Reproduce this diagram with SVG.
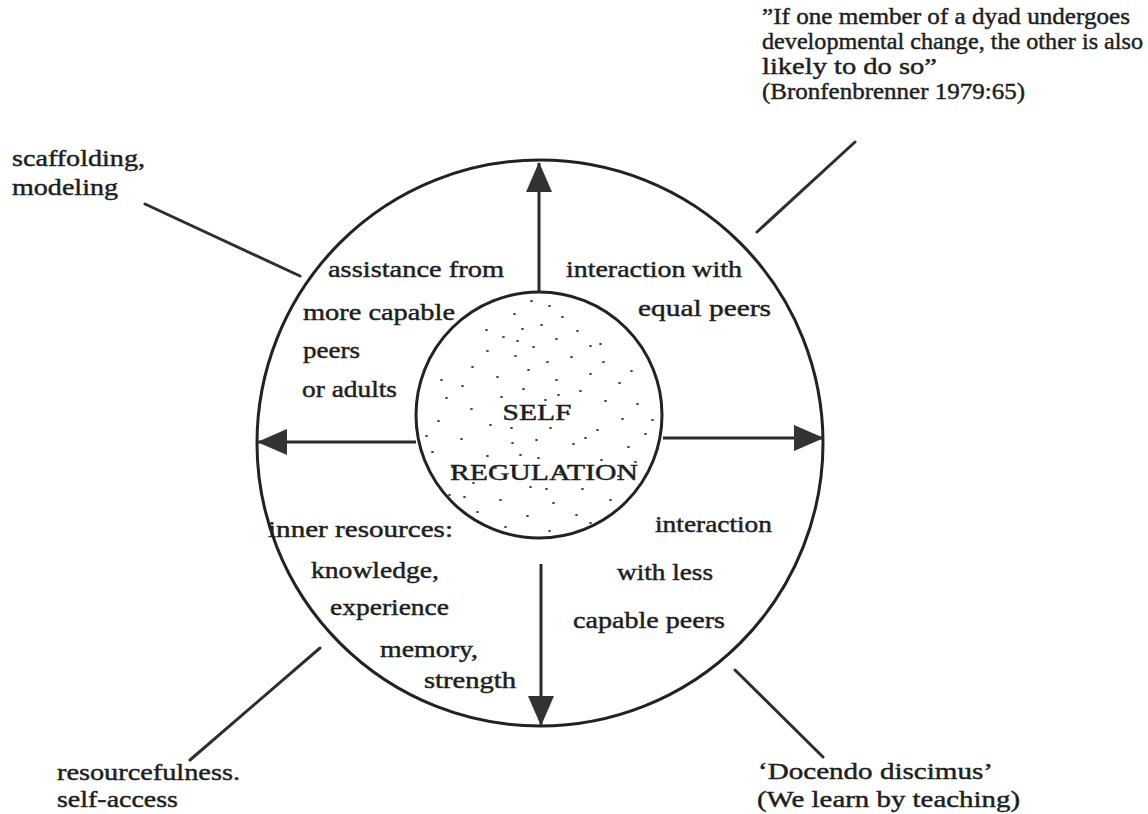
<svg xmlns="http://www.w3.org/2000/svg" width="1148" height="814" viewBox="0 0 1148 814">
<style>
text{font-family:"Liberation Serif","Times New Roman",serif;fill:#1e1e1e;stroke:#1e1e1e;stroke-width:0.45}
.in{font-size:23px}
.out{font-size:24px}
.ring{fill:none;stroke:#222;stroke-width:3}
.arrow{stroke:#2a2a2a;stroke-width:3;fill:none}
.lead{stroke:#2e2e2e;stroke-width:3;fill:none;stroke-linecap:round}
.dots{stroke:#444;stroke-width:1.8;stroke-linecap:round;fill:none}
</style>
<defs>
<marker id="head" viewBox="0 0 30 26" markerWidth="30" markerHeight="26" refX="29" refY="13" orient="auto" markerUnits="userSpaceOnUse">
<path d="M0,0 L30,13 L0,26 Z" fill="#333"/>
</marker>
</defs>
<rect width="1148" height="814" fill="#fff"/>

<g id="outer-circle">
<circle class="ring" cx="540" cy="443" r="283"/>
</g>

<g id="self-regulation">
<circle class="ring" cx="539" cy="415" r="123" fill="#fff"/>
<path class="dots" d="M531 301h1M549 306h1M514 314h1M562 317h1M541 325h1M522 329h1M577 331h1M503 337h1M556 339h1M533 347h1M590 346h1M487 351h1M515 356h1M571 357h1M547 362h1M603 362h1M472 367h1M528 370h1M590 374h1M497 377h1M556 380h1M619 383h1M462 386h1M523 389h1M580 391h1M446 398h1M501 397h1M545 400h1M605 401h1M637 404h1M471 409h1M527 412h1M568 414h1M622 419h1M438 421h1M490 425h1M550 428h1M597 430h1M645 434h1M461 439h1M512 443h1M573 444h1M628 447h1M432 452h1M487 456h1M538 458h1M601 460h1M452 467h1M513 470h1M560 472h1M618 476h1M473 483h1M530 487h1M582 489h1M449 495h1M500 500h1M553 503h1M610 500h1M477 512h1M527 516h1M576 515h1M505 527h1M549 531h1M590 523h1M464 497h1M635 462h1M426 436h1M652 420h1M441 380h1M631 371h1M486 330h1M600 344h1M517 341h1M558 395h1M511 428h1M585 438h1M536 440h1M495 468h1M546 489h1M520 455h1"/>
<text class="in" x="537" y="420" text-anchor="middle" textLength="69" lengthAdjust="spacingAndGlyphs">SELF</text>
<text class="in" x="544" y="480" text-anchor="middle" textLength="188" lengthAdjust="spacingAndGlyphs">REGULATION</text>
</g>

<g id="connectors">
<line class="arrow" x1="539" y1="292" x2="539" y2="163" marker-end="url(#head)"/>
<line class="arrow" x1="416" y1="442" x2="258" y2="442" marker-end="url(#head)"/>
<line class="arrow" x1="663" y1="438" x2="823" y2="438" marker-end="url(#head)"/>
<line class="arrow" x1="541" y1="564" x2="541" y2="725" marker-end="url(#head)"/>
<line class="lead" x1="145" y1="204" x2="300" y2="276"/>
<line class="lead" x1="855" y1="142" x2="757" y2="232"/>
<line class="lead" x1="320" y1="648" x2="190" y2="760"/>
<line class="lead" x1="735" y1="670" x2="823" y2="757"/>
</g>

<g id="quadrant-assistance">
<text class="in" x="328" y="277" textLength="176" lengthAdjust="spacingAndGlyphs">assistance from</text>
<text class="in" x="303" y="320" textLength="152" lengthAdjust="spacingAndGlyphs">more capable</text>
<text class="in" x="303" y="358" textLength="57" lengthAdjust="spacingAndGlyphs">peers</text>
<text class="in" x="302" y="397" textLength="95" lengthAdjust="spacingAndGlyphs">or adults</text>
</g>

<g id="quadrant-equal-peers">
<text class="in" x="566" y="277" textLength="176" lengthAdjust="spacingAndGlyphs">interaction with</text>
<text class="in" x="638" y="316" textLength="133" lengthAdjust="spacingAndGlyphs">equal peers</text>
</g>

<g id="quadrant-inner-resources">
<text class="in" x="268" y="537" textLength="185" lengthAdjust="spacingAndGlyphs">inner resources:</text>
<text class="in" x="311" y="578" textLength="128" lengthAdjust="spacingAndGlyphs">knowledge,</text>
<text class="in" x="330" y="615" textLength="119" lengthAdjust="spacingAndGlyphs">experience</text>
<text class="in" x="380" y="657" textLength="98" lengthAdjust="spacingAndGlyphs">memory,</text>
<text class="in" x="424" y="688" textLength="92" lengthAdjust="spacingAndGlyphs">strength</text>
</g>

<g id="quadrant-less-capable">
<text class="in" x="655" y="532" textLength="117" lengthAdjust="spacingAndGlyphs">interaction</text>
<text class="in" x="617" y="580" textLength="96" lengthAdjust="spacingAndGlyphs">with less</text>
<text class="in" x="573" y="628" textLength="152" lengthAdjust="spacingAndGlyphs">capable peers</text>
</g>

<g id="label-scaffolding">
<text class="out" x="12" y="166" textLength="133" lengthAdjust="spacingAndGlyphs">scaffolding,</text>
<text class="out" x="12" y="195" textLength="106" lengthAdjust="spacingAndGlyphs">modeling</text>
</g>

<g id="label-quote">
<text class="out" x="762" y="24" textLength="368" lengthAdjust="spacingAndGlyphs">”If one member of a dyad undergoes</text>
<text class="out" x="762" y="49" textLength="381" lengthAdjust="spacingAndGlyphs">developmental change, the other is also</text>
<text class="out" x="762" y="74" textLength="175" lengthAdjust="spacingAndGlyphs">likely to do so”</text>
<text class="out" x="762" y="99" textLength="263" lengthAdjust="spacingAndGlyphs">(Bronfenbrenner 1979:65)</text>
</g>

<g id="label-resourcefulness">
<text class="out" x="57" y="780" textLength="183" lengthAdjust="spacingAndGlyphs">resourcefulness.</text>
<text class="out" x="57" y="807" textLength="121" lengthAdjust="spacingAndGlyphs">self-access</text>
</g>

<g id="label-docendo">
<text class="out" x="758" y="779" textLength="235" lengthAdjust="spacingAndGlyphs">‘Docendo discimus’</text>
<text class="out" x="757" y="807" textLength="263" lengthAdjust="spacingAndGlyphs">(We learn by teaching)</text>
</g>
</svg>
